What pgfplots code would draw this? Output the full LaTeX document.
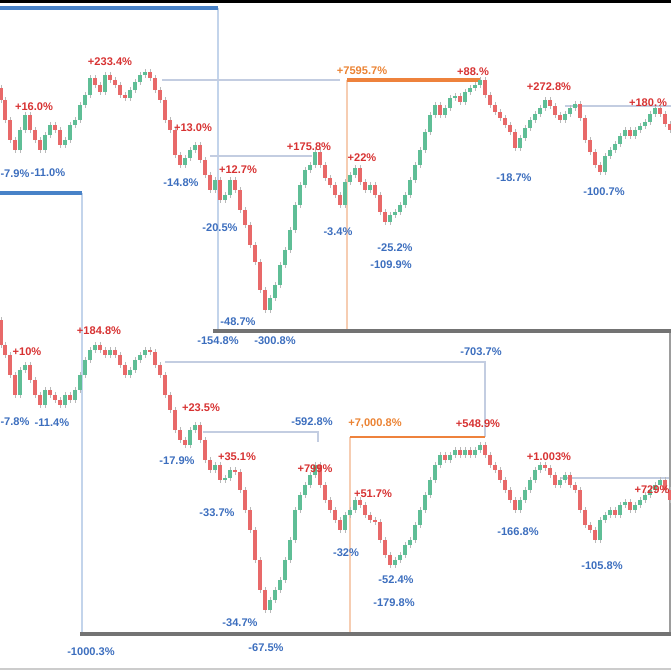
\documentclass[border=0pt]{standalone}
\usepackage{pgfplots}
\usepackage{pgfplotstable}
\pgfplotsset{compat=1.18}
\usepackage{fontspec}
\setmainfont{Liberation Sans}
\definecolor{cred}{RGB}{232,105,105}
\definecolor{cgreen}{RGB}{95,190,150}
\definecolor{lred}{RGB}{215,50,50}
\definecolor{lblue}{RGB}{60,110,190}
\definecolor{lorange}{RGB}{235,130,50}
\definecolor{bline}{RGB}{72,130,200}
\definecolor{bvert}{RGB}{195,212,235}
\definecolor{gline}{RGB}{115,115,115}
\definecolor{oline}{RGB}{238,130,60}
\definecolor{overt}{RGB}{246,205,178}
\definecolor{thinc}{RGB}{195,205,225}
\tikzset{lbl/.style={font=\fontsize{4.7}{5.5}\selectfont\bfseries}}

\pgfplotstableread{
x o c
1 88 100
5 100 120
10 120 140
15 140 150
20 150 130
25 130 115
30 115 130
35 130 140
40 140 150
45 150 135
50 135 125
55 125 130
60 130 145
65 145 140
70 140 125
75 125 120
80 120 105
85 105 95
90 95 78
95 78 85
100 85 92
105 92 75
110 75 80
115 80 85
120 85 95
125 95 98
130 98 90
135 90 82
140 82 75
145 75 72
150 72 78
155 78 90
160 90 100
165 100 120
170 120 130
175 130 155
180 155 165
185 165 158
190 158 150
195 150 145
200 145 160
205 160 175
210 175 190
215 190 180
220 180 200
225 200 195
230 195 180
235 180 190
240 190 210
245 210 225
250 225 245
255 245 262
260 262 290
265 290 310
270 310 298
275 298 285
280 285 265
285 265 250
290 250 230
295 230 205
300 205 185
305 185 170
310 170 165
315 165 152
320 152 165
325 165 178
330 178 185
335 185 195
340 195 205
345 205 182
350 182 175
355 175 168
360 168 182
365 182 190
370 190 185
375 185 195
380 195 212
385 212 222
390 222 215
395 215 212
400 212 205
405 205 195
410 195 180
415 180 165
420 165 150
425 150 132
430 132 115
435 115 105
440 105 115
445 115 108
450 108 98
455 98 96
460 96 102
465 102 92
470 92 88
475 88 85
480 85 80
485 80 95
490 95 105
495 105 112
500 112 118
505 118 125
510 125 132
515 132 148
520 148 138
525 138 128
530 128 120
535 120 114
540 114 108
545 108 100
550 100 106
555 106 115
560 115 120
565 120 114
570 114 108
575 108 104
580 104 118
585 118 140
590 140 152
595 152 165
600 165 172
605 172 156
610 156 150
615 150 144
620 144 136
625 136 130
630 130 136
635 136 130
640 130 126
645 126 122
650 122 114
655 114 108
660 108 114
665 114 124
670 124 130
}\toptable

\pgfplotstableread{
x o c
1 320 345
5 345 355
10 355 375
15 375 395
20 395 370
25 370 365
30 365 380
35 380 395
40 395 405
45 405 390
50 390 395
55 395 400
60 400 405
65 405 395
70 395 400
75 400 390
80 390 375
85 375 360
90 360 350
95 350 345
100 345 350
105 350 355
110 355 350
115 350 355
120 355 365
125 365 375
130 375 370
135 370 360
140 360 355
145 355 350
150 350 352
155 352 365
160 365 375
165 375 395
170 395 410
175 410 430
180 430 440
185 440 445
190 445 430
195 430 425
200 425 440
205 440 460
210 460 470
215 470 465
220 465 480
225 480 478
230 478 470
235 470 472
240 472 490
245 490 510
250 510 530
255 530 560
260 560 590
265 590 610
270 610 600
275 600 590
280 590 580
285 580 560
290 560 540
295 540 510
300 510 495
305 495 485
310 485 475
315 475 465
320 465 485
325 485 500
330 500 510
335 510 520
340 520 530
345 530 515
350 515 510
355 510 500
360 500 505
365 505 515
370 515 520
375 520 522
380 522 540
385 540 555
390 555 565
395 565 560
400 560 555
405 555 545
410 545 540
415 540 525
420 525 510
425 510 495
430 495 480
435 480 465
440 465 455
445 455 460
450 460 455
455 455 450
460 450 455
465 455 450
470 450 455
475 455 450
480 450 445
485 445 455
490 455 465
495 465 470
500 470 480
505 480 490
510 490 500
515 500 510
520 510 500
525 500 490
530 490 480
535 480 470
540 470 465
545 465 468
550 468 475
555 475 485
560 485 480
565 480 475
570 475 485
575 485 490
580 490 510
585 510 525
590 525 530
595 530 540
600 540 520
605 520 515
610 515 510
615 510 515
620 515 505
625 505 502
630 502 510
635 510 505
640 505 500
645 500 495
650 495 490
655 490 485
660 485 480
665 480 490
670 490 500
}\bottable

\begin{document}
\begin{tikzpicture}
\begin{axis}[
  scale only axis, width=10cm, height=10cm,
  xmin=0, xmax=671, ymin=0, ymax=671, y dir=reverse,
  hide axis, clip=false,
  colormap={rg}{color=(cred) color=(cgreen)},
  point meta min=-1, point meta max=1,
]
% frame and reference lines
\addplot[black, line width=1.4pt] coordinates {(0,1) (671,1)};
\addplot[gray!40, line width=0.6pt] coordinates {(0,669) (671,669)};
\addplot[bvert, line width=0.6pt] coordinates {(218,8) (218,330)};
\addplot[bvert, line width=0.6pt] coordinates {(82,193) (82,633)};
\addplot[overt, line width=0.6pt] coordinates {(347,80) (347,330)};
\addplot[overt, line width=0.6pt] coordinates {(350,437) (350,633)};
\addplot[thinc, line width=0.5pt] coordinates {(162,80) (340,80)};
\addplot[thinc, line width=0.5pt] coordinates {(210,156) (312,156)};
\addplot[thinc, line width=0.5pt] coordinates {(565,106) (671,106)};
\addplot[thinc, line width=0.5pt] coordinates {(165,362) (485,362) (485,437)};
\addplot[thinc, line width=0.5pt] coordinates {(203,432) (318,432) (318,442)};
\addplot[thinc, line width=0.5pt] coordinates {(560,478) (671,478)};
\addplot[gline!70, line width=0.6pt] coordinates {(670,331) (670,634)};
\addplot[bline, line width=1.3pt] coordinates {(0,8) (218,8)};
\addplot[bline, line width=1.3pt] coordinates {(0,193) (82,193)};
\addplot[gline, line width=1.3pt] coordinates {(213,331) (671,331)};
\addplot[gline, line width=1.3pt] coordinates {(80,634) (671,634)};
\addplot[oline, line width=1.5pt] coordinates {(347,80) (480,80)};
\addplot[oline, line width=1.2pt] coordinates {(350,437) (485,437)};

% wicks
\addplot[gray!55, line width=0.4pt, quiver={u=0, v={abs(\thisrow{c}-\thisrow{o})+6}}, -]
  table[x=x, y expr={min(\thisrow{o},\thisrow{c})-3}] {\toptable};
\addplot[gray!55, line width=0.4pt, quiver={u=0, v={abs(\thisrow{c}-\thisrow{o})+6}}, -]
  table[x=x, y expr={min(\thisrow{o},\thisrow{c})-3}] {\bottable};
% bodies
\addplot[line width=1.6pt, quiver={u=0, v={\thisrow{c}-\thisrow{o}}, colored=mapped color}, -,
  point meta={\thisrow{o}-\thisrow{c}}]
  table[x=x, y=o] {\toptable};
\addplot[line width=1.6pt, quiver={u=0, v={\thisrow{c}-\thisrow{o}}, colored=mapped color}, -,
  point meta={\thisrow{o}-\thisrow{c}}]
  table[x=x, y=o] {\bottable};

% labels top chart
\node[lbl, lred] at (axis cs:34,107) {+16.0\%};
\node[lbl, lblue] at (axis cs:15,174) {-7.9\%};
\node[lbl, lblue] at (axis cs:48,173) {-11.0\%};
\node[lbl, lred] at (axis cs:110,62) {+233.4\%};
\node[lbl, lred] at (axis cs:193,128) {+13.0\%};
\node[lbl, lblue] at (axis cs:181,183) {-14.8\%};
\node[lbl, lred] at (axis cs:238,170) {+12.7\%};
\node[lbl, lblue] at (axis cs:220,228) {-20.5\%};
\node[lbl, lred] at (axis cs:309,147) {+175.8\%};
\node[lbl, lblue] at (axis cs:238,322) {-48.7\%};
\node[lbl, lblue] at (axis cs:218,341) {-154.8\%};
\node[lbl, lblue] at (axis cs:275,341) {-300.8\%};
\node[lbl, lred] at (axis cs:362,158) {+22\%};
\node[lbl, lblue] at (axis cs:338,232) {-3.4\%};
\node[lbl, lblue] at (axis cs:395,248) {-25.2\%};
\node[lbl, lblue] at (axis cs:391,265) {-109.9\%};
\node[lbl, lorange] at (axis cs:362,71) {+7595.7\%};
\node[lbl, lred] at (axis cs:473,72) {+88.\%};
\node[lbl, lred] at (axis cs:549,87) {+272.8\%};
\node[lbl, lblue] at (axis cs:514,178) {-18.7\%};
\node[lbl, lblue] at (axis cs:604,192) {-100.7\%};
\node[lbl, lred] at (axis cs:648,103) {+180.\%};

% labels bottom chart
\node[lbl, lred] at (axis cs:99,331) {+184.8\%};
\node[lbl, lred] at (axis cs:27,352) {+10\%};
\node[lbl, lblue] at (axis cs:15,422) {-7.8\%};
\node[lbl, lblue] at (axis cs:52,423) {-11.4\%};
\node[lbl, lred] at (axis cs:201,408) {+23.5\%};
\node[lbl, lblue] at (axis cs:177,461) {-17.9\%};
\node[lbl, lred] at (axis cs:237,457) {+35.1\%};
\node[lbl, lblue] at (axis cs:217,513) {-33.7\%};
\node[lbl, lblue] at (axis cs:240,623) {-34.7\%};
\node[lbl, lblue] at (axis cs:91,652) {-1000.3\%};
\node[lbl, lblue] at (axis cs:266,648) {-67.5\%};
\node[lbl, lblue] at (axis cs:312,422) {-592.8\%};
\node[lbl, lred] at (axis cs:315,469) {+799\%};
\node[lbl, lred] at (axis cs:373,494) {+51.7\%};
\node[lbl, lblue] at (axis cs:346,553) {-32\%};
\node[lbl, lblue] at (axis cs:396,580) {-52.4\%};
\node[lbl, lblue] at (axis cs:394,603) {-179.8\%};
\node[lbl, lorange] at (axis cs:375,423) {+7,000.8\%};
\node[lbl, lred] at (axis cs:478,424) {+548.9\%};
\node[lbl, lblue] at (axis cs:481,352) {-703.7\%};
\node[lbl, lred] at (axis cs:549,457) {+1.003\%};
\node[lbl, lblue] at (axis cs:518,532) {-166.8\%};
\node[lbl, lblue] at (axis cs:602,566) {-105.8\%};
\node[lbl, lred] at (axis cs:652,490) {+729\%};
\end{axis}
\pgfresetboundingbox
\path[use as bounding box] (current axis.south west) rectangle (current axis.north east);
\end{tikzpicture}
\end{document}
